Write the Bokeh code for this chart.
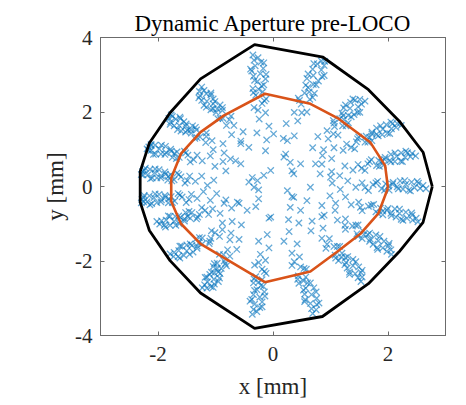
from bokeh.plotting import figure
from bokeh.models import LinearAxis, FixedTicker
from bokeh.embed import file_html
from bokeh.resources import INLINE

title_text = "Dynamic Aperture pre-LOCO"
x_label = "x [mm]"
y_label = "y [mm]"
x_ticks = [-2, 0, 2]
y_ticks = [-4, -2, 0, 2, 4]
x_tick_text = {-2: "-2", 0: "0", 2: "2"}
y_tick_text = {-4: "-4", -2: "-2", 0: "0", 2: "2", 4: "4"}

# dynamic aperture boundaries
outer_x = [2.77, 2.61, 2.21, 1.66, 0.87, -0.32, -1.26, -1.79, -2.15, -2.31, -2.31, -2.15, -1.79, -1.26, -0.32, 0.86, 1.66, 2.19, 2.61, 2.77]
outer_y = [0.00, 0.92, 1.73, 2.60, 3.47, 3.81, 2.89, 1.98, 1.17, 0.40, -0.42, -1.18, -1.99, -2.86, -3.81, -3.49, -2.61, -1.76, -0.96, 0.00]
inner_x = [2.00, 1.95, 1.69, 1.14, 0.65, -0.14, -0.85, -1.26, -1.60, -1.77, -1.77, -1.60, -1.26, -0.77, -0.14, 0.65, 1.11, 1.52, 1.83, 2.00]
inner_y = [-0.04, 0.56, 1.19, 1.82, 2.22, 2.49, 1.91, 1.46, 0.88, 0.23, -0.40, -1.00, -1.54, -1.99, -2.57, -2.28, -1.76, -1.27, -0.73, -0.04]

# tracked particles, grouped by ray
ray_top = [(-0.11,1.25),(-0.28,1.44),(-0.07,1.62),(-0.24,1.81),(-0.13,1.98),(-0.33,2.12),(-0.19,2.23),(-0.12,2.35),(-0.30,2.45),(-0.18,2.54),(-0.35,2.63),(-0.16,2.73),(-0.27,2.82),(-0.13,2.89),(-0.34,2.96),(-0.22,3.03),(-0.37,3.10),(-0.17,3.17),(-0.31,3.24),(-0.16,3.32),(-0.33,3.39),(-0.26,3.46),(-0.35,3.53),(-0.25,2.61),
           (-0.26,2.05),(-0.15,2.30),(-0.34,2.52),(-0.20,2.70),(-0.32,2.85),(-0.12,3.01),(-0.39,3.15),(-0.21,3.34)]
ray_a = [(0.18,1.29),(0.37,1.36),(0.23,1.69),(0.43,1.76),(0.37,1.99),(0.59,2.00),(0.49,2.21),(0.44,2.37),(0.64,2.34),(0.55,2.51),(0.72,2.50),(0.57,2.72),(0.70,2.74),(0.59,2.90),(0.79,2.83),(0.70,2.98),(0.85,2.95),(0.69,3.15),(0.84,3.13),(0.71,3.30),(0.89,3.25),(0.84,3.37),(0.90,3.36),(0.63,2.54),
         (0.50,1.98),(0.46,2.31),(0.69,2.39),(0.61,2.66),(0.75,2.73),(0.61,3.02),(0.89,2.98),(0.77,3.29)]
ray_b = [(0.69,1.04),(0.88,0.99),(0.78,1.34),(0.96,1.28),(0.94,1.50),(1.13,1.38),(1.07,1.61),(1.05,1.77),(1.21,1.63),(1.16,1.82),(1.31,1.71),(1.20,1.97),(1.31,1.91),(1.23,2.11),(1.41,1.93),(1.34,2.10),(1.47,1.99),(1.35,2.26),(1.48,2.14),(1.39,2.35),(1.54,2.21),(1.51,2.34),(1.60,2.29),(1.23,1.80),
         (1.05,1.41),(1.06,1.70),(1.27,1.63),(1.22,1.90),(1.36,1.87),(1.26,2.19),(1.51,1.99),(1.43,2.32)]
ray_c = [(0.86,0.83),(1.02,0.75),(1.06,1.04),(1.22,0.97),(1.28,1.14),(1.42,1.01),(1.45,1.20),(1.49,1.33),(1.60,1.19),(1.62,1.35),(1.72,1.23),(1.72,1.46),(1.80,1.40),(1.80,1.57),(1.90,1.39),(1.91,1.54),(1.99,1.43),(1.97,1.66),(2.06,1.55),(2.05,1.73),(2.14,1.59),(2.16,1.69),(2.23,1.64),(1.68,1.32),
         (1.36,1.05),(1.47,1.28),(1.65,1.19),(1.72,1.41),(1.83,1.36),(1.87,1.63),(2.03,1.42),(2.08,1.69)]
ray_d = [(1.02,0.40),(1.16,0.29),(1.25,0.55),(1.39,0.44),(1.48,0.59),(1.60,0.43),(1.65,0.61),(1.71,0.72),(1.80,0.56),(1.84,0.70),(1.92,0.57),(1.95,0.78),(2.03,0.70),(2.05,0.86),(2.12,0.67),(2.15,0.81),(2.22,0.68),(2.23,0.90),(2.30,0.78),(2.31,0.95),(2.39,0.80),(2.42,0.89),(2.48,0.82),(1.89,0.66),
         (1.54,0.49),(1.68,0.67),(1.85,0.54),(1.94,0.73),(2.05,0.66),(2.12,0.90),(2.25,0.67),(2.34,0.91)]
ray_e = [(1.03,0.09),(1.17,-0.08),(1.30,0.15),(1.44,-0.02),(1.55,0.10),(1.66,-0.11),(1.74,0.05),(1.82,0.14),(1.89,-0.06),(1.96,0.07),(2.02,-0.10),(2.09,0.11),(2.16,-0.01),(2.21,0.15),(2.26,-0.07),(2.31,0.06),(2.36,-0.10),(2.41,0.12),(2.46,-0.03),(2.51,0.14),(2.56,-0.05),(2.61,0.03),(2.66,-0.06),(2.01,0.01),
         (1.60,-0.03),(1.79,0.10),(1.94,-0.10),(2.08,0.06),(2.18,-0.06),(2.29,0.16),(2.39,-0.12),(2.53,0.09)]
ray_f = [(0.99,-0.25),(1.09,-0.45),(1.26,-0.28),(1.36,-0.49),(1.49,-0.42),(1.55,-0.65),(1.66,-0.53),(1.75,-0.48),(1.79,-0.68),(1.87,-0.58),(1.91,-0.76),(2.00,-0.59),(2.05,-0.72),(2.12,-0.60),(2.14,-0.82),(2.20,-0.72),(2.23,-0.88),(2.31,-0.69),(2.33,-0.85),(2.41,-0.71),(2.43,-0.90),(2.49,-0.85),(2.52,-0.95),(1.91,-0.66),
         (1.52,-0.56),(1.71,-0.50),(1.83,-0.73),(1.98,-0.64),(2.06,-0.78),(2.20,-0.61),(2.26,-0.91),(2.42,-0.77)]
ray_g = [(0.85,-0.51),(0.89,-0.77),(1.08,-0.64),(1.12,-0.90),(1.26,-0.87),(1.26,-1.15),(1.38,-1.06),(1.48,-1.03),(1.46,-1.27),(1.56,-1.19),(1.55,-1.40),(1.68,-1.25),(1.69,-1.41),(1.79,-1.30),(1.74,-1.55),(1.83,-1.46),(1.81,-1.64),(1.93,-1.47),(1.91,-1.65),(2.02,-1.53),(1.98,-1.74),(2.05,-1.70),(2.06,-1.82),(1.58,-1.29),
         (1.25,-1.04),(1.44,-1.04),(1.48,-1.34),(1.65,-1.29),(1.68,-1.47),(1.86,-1.34),(1.82,-1.69),(2.01,-1.59)]
ray_h = [(0.68,-0.93),(0.66,-1.19),(0.87,-1.12),(0.85,-1.39),(0.98,-1.40),(0.92,-1.66),(1.06,-1.61),(1.16,-1.61),(1.08,-1.84),(1.20,-1.79),(1.14,-1.99),(1.30,-1.88),(1.27,-2.04),(1.39,-1.96),(1.29,-2.19),(1.39,-2.13),(1.33,-2.30),(1.49,-2.16),(1.43,-2.34),(1.55,-2.25),(1.48,-2.45),(1.55,-2.43),(1.53,-2.55),(1.19,-1.89),
         (0.94,-1.55),(1.12,-1.61),(1.09,-1.92),(1.26,-1.91),(1.25,-2.10),(1.44,-2.02),(1.33,-2.36),(1.53,-2.31)]
ray_i = [(0.28,-1.21),(0.19,-1.47),(0.42,-1.54),(0.33,-1.79),(0.46,-1.89),(0.33,-2.12),(0.48,-2.16),(0.58,-2.22),(0.44,-2.40),(0.57,-2.43),(0.45,-2.60),(0.65,-2.59),(0.57,-2.73),(0.71,-2.72),(0.55,-2.89),(0.67,-2.90),(0.56,-3.04),(0.76,-3.00),(0.65,-3.14),(0.80,-3.13),(0.67,-3.28),(0.75,-3.31),(0.69,-3.41),(0.53,-2.53),
         (0.37,-2.02),(0.54,-2.20),(0.43,-2.49),(0.60,-2.59),(0.53,-2.78),(0.75,-2.83),(0.55,-3.09),(0.76,-3.17)]
ray_j = [(-0.10,-1.29),(-0.25,-1.47),(-0.07,-1.65),(-0.22,-1.82),(-0.13,-1.98),(-0.32,-2.11),(-0.19,-2.22),(-0.12,-2.33),(-0.30,-2.42),(-0.19,-2.50),(-0.34,-2.59),(-0.17,-2.68),(-0.28,-2.77),(-0.15,-2.83),(-0.34,-2.90),(-0.23,-2.97),(-0.37,-3.03),(-0.19,-3.10),(-0.32,-3.16),(-0.19,-3.23),(-0.34,-3.30),(-0.28,-3.36),(-0.36,-3.43),(-0.25,-2.57),
         (-0.25,-2.04),(-0.15,-2.28),(-0.33,-2.48),(-0.21,-2.66),(-0.32,-2.79),(-0.14,-2.94),(-0.40,-3.08),(-0.23,-3.25)]
ray_s = [(-0.59,-1.42),(-0.75,-1.43),(-0.63,-1.69),(-0.79,-1.70),(-0.75,-1.87),(-0.93,-1.82),(-0.85,-2.00),(-0.81,-2.13),(-0.97,-2.06),(-0.90,-2.20),(-1.04,-2.15),(-0.92,-2.34),(-1.02,-2.32),(-0.93,-2.46),(-1.10,-2.36),(-1.03,-2.49),(-1.15,-2.43),(-1.02,-2.62),(-1.14,-2.56),(-1.04,-2.71),(-1.19,-2.64),(-1.15,-2.73),(-1.23,-2.72),(-0.97,-2.20),
         (-0.86,-1.83),(-0.83,-2.07),(-1.02,-2.07),(-0.95,-2.29),(-1.07,-2.30),(-0.95,-2.55),(-1.18,-2.44),(-1.08,-2.69)]
ray_r = [(-0.55,-1.03),(-0.71,-0.94),(-0.73,-1.25),(-0.88,-1.16),(-0.93,-1.34),(-1.07,-1.19),(-1.08,-1.39),(-1.11,-1.53),(-1.23,-1.38),(-1.23,-1.54),(-1.34,-1.41),(-1.32,-1.66),(-1.41,-1.58),(-1.39,-1.76),(-1.50,-1.57),(-1.50,-1.73),(-1.59,-1.60),(-1.55,-1.85),(-1.64,-1.72),(-1.62,-1.92),(-1.72,-1.77),(-1.73,-1.88),(-1.79,-1.81),(-1.29,-1.51),
         (-1.01,-1.24),(-1.10,-1.47),(-1.28,-1.37),(-1.32,-1.60),(-1.44,-1.54),(-1.45,-1.82),(-1.62,-1.60),(-1.65,-1.88)]
ray_q = [(-0.72,-0.58),(-0.85,-0.45),(-0.92,-0.72),(-1.05,-0.60),(-1.12,-0.75),(-1.24,-0.57),(-1.28,-0.75),(-1.33,-0.87),(-1.41,-0.70),(-1.44,-0.85),(-1.52,-0.70),(-1.54,-0.93),(-1.61,-0.83),(-1.63,-1.00),(-1.70,-0.80),(-1.72,-0.94),(-1.79,-0.80),(-1.79,-1.04),(-1.86,-0.90),(-1.87,-1.09),(-1.94,-0.92),(-1.97,-1.01),(-2.02,-0.94),(-1.49,-0.80),
         (-1.18,-0.64),(-1.31,-0.82),(-1.46,-0.67),(-1.54,-0.87),(-1.64,-0.79),(-1.69,-1.04),(-1.82,-0.79),(-1.89,-1.04)]
ray_p = [(-0.98,-0.19),(-1.09,-0.37),(-1.21,-0.14),(-1.32,-0.32),(-1.42,-0.21),(-1.51,-0.43),(-1.58,-0.28),(-1.65,-0.19),(-1.71,-0.39),(-1.77,-0.27),(-1.82,-0.44),(-1.88,-0.24),(-1.94,-0.36),(-1.98,-0.21),(-2.02,-0.43),(-2.07,-0.30),(-2.11,-0.46),(-2.15,-0.25),(-2.19,-0.41),(-2.24,-0.24),(-2.25,-0.41),(-2.28,-0.35),(-2.29,-0.44),(-1.81,-0.33),
         (-1.46,-0.35),(-1.62,-0.23),(-1.75,-0.43),(-1.87,-0.29),(-1.95,-0.41),(-2.05,-0.20),(-2.14,-0.49),(-2.25,-0.29)]
ray_o = [(-1.03,0.17),(-1.14,0.03),(-1.24,0.28),(-1.35,0.14),(-1.45,0.28),(-1.53,0.09),(-1.60,0.26),(-1.67,0.36),(-1.72,0.18),(-1.78,0.32),(-1.83,0.17),(-1.88,0.39),(-1.94,0.28),(-1.98,0.45),(-2.02,0.23),(-2.06,0.37),(-2.10,0.23),(-2.14,0.46),(-2.18,0.31),(-2.22,0.49),(-2.26,0.31),(-2.27,0.40),(-2.29,0.32),(-1.82,0.27),
         (-1.49,0.16),(-1.64,0.32),(-1.76,0.15),(-1.87,0.33),(-1.95,0.23),(-2.05,0.47),(-2.13,0.21),(-2.24,0.44)]
ray_n = [(-0.87,0.67),(-1.01,0.54),(-1.09,0.82),(-1.23,0.69),(-1.32,0.84),(-1.44,0.66),(-1.48,0.84),(-1.54,0.95),(-1.63,0.78),(-1.67,0.93),(-1.75,0.78),(-1.78,1.00),(-1.86,0.91),(-1.87,1.08),(-1.95,0.87),(-1.98,1.01),(-2.04,0.87),(-2.05,1.11),(-2.12,0.97),(-2.12,1.13),(-2.17,0.97),(-2.16,1.06),(-2.19,1.01),(-1.72,0.88),
         (-1.38,0.72),(-1.52,0.90),(-1.68,0.75),(-1.77,0.95),(-1.88,0.86),(-1.94,1.11),(-2.08,0.86),(-2.12,1.10)]
ray_m = [(-0.85,0.90),(-0.87,1.15),(-1.04,0.99),(-1.06,1.23),(-1.17,1.18),(-1.16,1.44),(-1.27,1.33),(-1.36,1.29),(-1.33,1.52),(-1.42,1.43),(-1.40,1.63),(-1.52,1.46),(-1.52,1.62),(-1.60,1.49),(-1.55,1.74),(-1.63,1.64),(-1.61,1.82),(-1.72,1.63),(-1.69,1.81),(-1.79,1.67),(-1.75,1.88),(-1.81,1.83),(-1.77,1.92),(-1.43,1.52),
         (-1.16,1.34),(-1.32,1.31),(-1.35,1.59),(-1.49,1.51),(-1.51,1.68),(-1.66,1.53),(-1.62,1.86),(-1.78,1.73)]
ray_l = [(-0.56,1.22),(-0.52,1.47),(-0.72,1.39),(-0.68,1.64),(-0.81,1.64),(-0.73,1.89),(-0.87,1.83),(-0.96,1.82),(-0.88,2.04),(-0.99,1.99),(-0.92,2.19),(-1.08,2.06),(-1.04,2.22),(-1.16,2.13),(-1.04,2.35),(-1.15,2.29),(-1.08,2.46),(-1.24,2.31),(-1.16,2.49),(-1.29,2.38),(-1.20,2.58),(-1.28,2.55),(-1.24,2.67),(-0.97,2.08),
         (-0.76,1.79),(-0.92,1.83),(-0.88,2.12),(-1.04,2.09),(-1.01,2.28),(-1.20,2.18),(-1.08,2.51),(-1.27,2.44)]
core = [(-0.74,0.74),(-0.56,0.61),(-0.42,0.12),(-0.27,0.16),(-0.33,-0.02),(-0.16,0.30),(-0.04,0.43),(-0.25,-0.33),(-0.04,-0.82),(-0.62,-0.42),(-0.45,-0.64),(0.19,0.79),(0.30,0.65),(0.36,0.34),(0.48,0.61),(0.25,-0.11),(0.36,-0.29),(0.30,-0.56),(0.48,-0.64),(0.59,-0.38),(0.74,0.61),(0.82,0.34),(1.00,0.25),(0.65,-0.02),(-0.56,1.15),(0.25,1.23),(0.01,1.41),(-0.42,1.05),(-0.13,0.96),(-0.65,0.69),(0.22,0.87),(0.33,0.42),(-0.36,0.24),(-0.82,0.42),(0.85,0.60),(-0.82,-0.36),(-0.59,-0.45),(-0.30,-0.54),(-0.07,-0.85),(0.27,-0.89),(0.45,-0.98),(0.33,-0.27),(0.85,-0.81),(-0.88,-0.98),(-0.25,-0.09)]

rays = [ray_top, ray_a, ray_b, ray_c, ray_d, ray_e, ray_f, ray_g, ray_h, ray_i,
        ray_j, ray_s, ray_r, ray_q, ray_p, ray_o, ray_n, ray_m, ray_l, core]
px = [pt[0] for ray in rays for pt in ray]
py = [pt[1] for ray in rays for pt in ray]

AX = "#6b6b6b"
TXT = "#262626"
FONT = "Liberation Serif"

p = figure(width=466, height=405, x_range=(-3, 3), y_range=(-4, 4),
           output_backend="svg", toolbar_location=None,
           x_axis_label=x_label, y_axis_label=y_label)
p.min_border_left = 100
p.min_border_right = 21
p.min_border_top = 37
p.min_border_bottom = 70
p.background_fill_color = "white"
p.border_fill_color = "white"
p.outline_line_color = AX
p.outline_line_width = 1
p.xgrid.visible = False
p.ygrid.visible = False

p.title.text = title_text
p.title.text_font = FONT
p.title.text_font_size = "23px"
p.title.text_font_style = "normal"
p.title.text_color = "#000000"
p.title.align = "center"
p.title.standoff = 3

for ax, ticks, names in ((p.xaxis[0], x_ticks, x_tick_text), (p.yaxis[0], y_ticks, y_tick_text)):
    ax.ticker = FixedTicker(ticks=ticks)
    ax.major_label_overrides = names
    ax.major_tick_in = 4
    ax.major_tick_out = 0
    ax.minor_tick_line_color = None
    ax.axis_line_color = AX
    ax.major_tick_line_color = AX
    ax.major_label_text_font = FONT
    ax.major_label_text_font_size = "21px"
    ax.major_label_text_color = TXT
    ax.axis_label_text_font = FONT
    ax.axis_label_text_font_size = "23px"
    ax.axis_label_text_font_style = "normal"
    ax.axis_label_text_color = TXT
p.xaxis[0].major_label_standoff = 11
p.xaxis[0].axis_label_standoff = 10
p.yaxis[0].major_label_standoff = 8
p.yaxis[0].axis_label_standoff = 4

for loc, ticks in (("above", x_ticks), ("right", y_ticks)):
    extra = LinearAxis(ticker=FixedTicker(ticks=ticks), major_tick_in=4, major_tick_out=0,
                       minor_tick_line_color=None, axis_line_color=AX,
                       major_tick_line_color=AX, major_label_text_color=None,
                       major_label_text_font_size="1px", major_label_standoff=0)
    p.add_layout(extra, loc)

p.scatter(px, py, marker="x", size=9, line_color="#0072BD", line_alpha=0.6, line_width=1.3)
p.line(inner_x, inner_y, line_color="#D95319", line_width=2.6)
p.line(outer_x, outer_y, line_color="#000000", line_width=2.8)

open("out.html", "w").write(file_html(p, INLINE))
